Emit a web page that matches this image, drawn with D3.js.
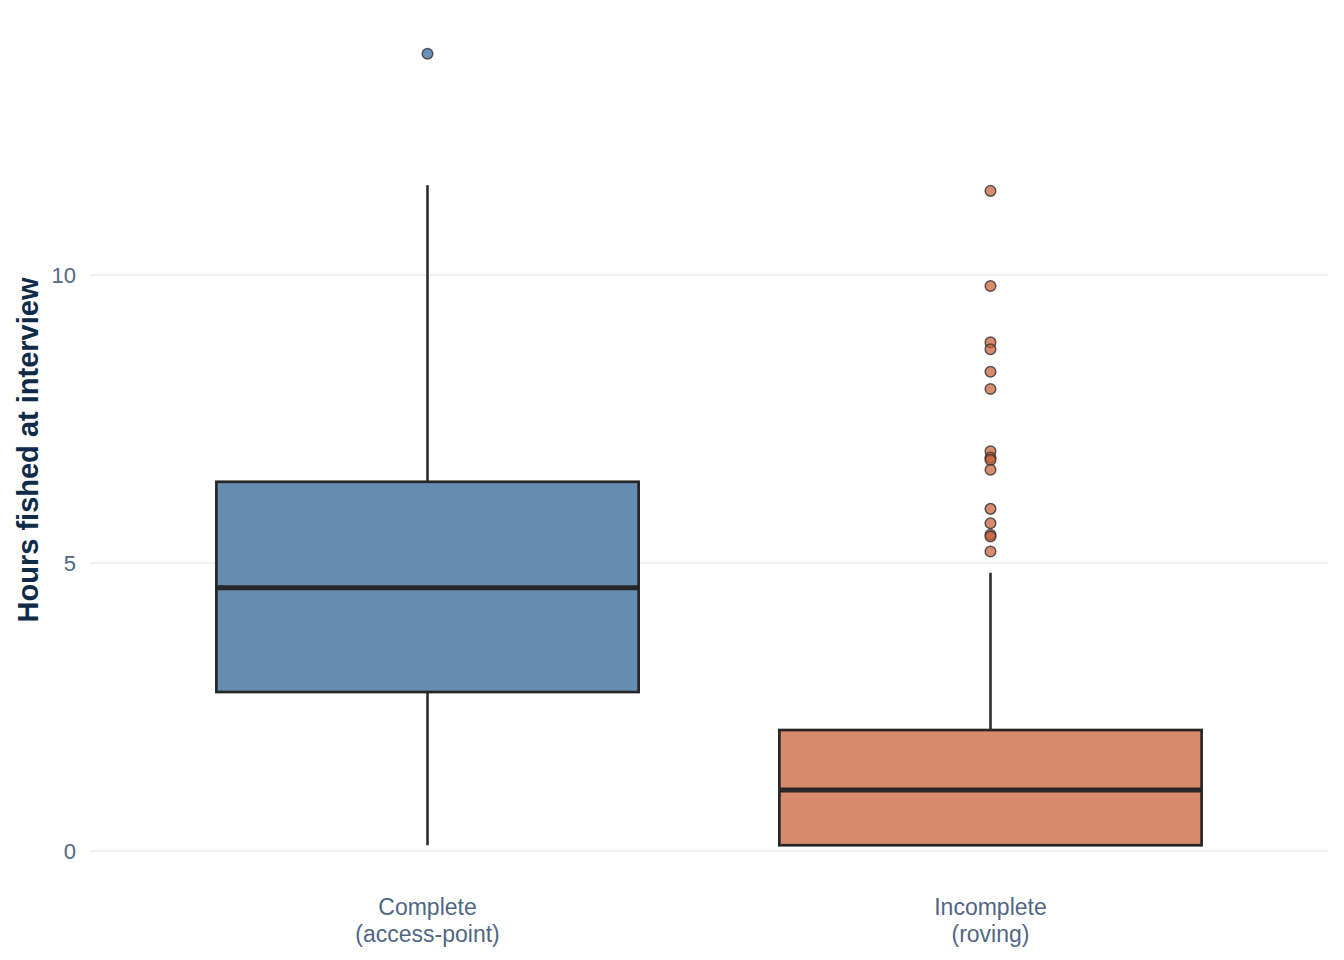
<html>
  <head>
    <meta charset='utf-8'>
    <script src='https://d3js.org/d3.v7.min.js'></script>
    <style>
      body { margin: 0; background: #fff; }
      text { font-family: 'Liberation Sans', Arial, Helvetica, sans-serif; }
    </style>
  </head>
  <body>
    <div id='chart'></div>
    <script>
        // box stats (hours)
        const categories = ['Complete\n(access-point)', 'Incomplete\n(roving)'];
        const q1 = [2.76, 0.10];
        const median = [4.57, 1.06];
        const q3 = [6.41, 2.10];
        const whiskLo = [0.10, 0.10];
        const whiskHi = [11.56, 4.83];
        const outliers = [
          [13.84],
          [11.46, 9.81, 8.83, 8.71, 8.32, 8.02, 6.94, 6.83, 6.79, 6.62, 5.94, 5.69, 5.49, 5.46, 5.20]
        ];
        const boxFill = ['#678cb1', '#d88b6c'];
        const dotFill = ['#2d5f96', '#c95c30'];
        const yTicks = [0, 5, 10];

        const W = 1344, H = 960;
        const margin = { left: 90, right: 16, top: 0, bottom: 0 };

        const svg = d3.select('#chart').append('svg')
            .attr('width', W).attr('height', H);

        const x = d3.scaleBand()
            .domain(d3.range(categories.length))
            .range([margin.left, W - margin.right])
            .paddingInner(0.25)
            .paddingOuter(0.2245);

        const y = d3.scaleLinear()
            .domain([0, 10])
            .range([851, 275]);

        // grid
        const grid = svg.append('g');
        grid.selectAll('line').data(yTicks).join('line')
            .attr('x1', margin.left).attr('x2', W - margin.right)
            .attr('y1', d => y(d)).attr('y2', d => y(d))
            .attr('stroke', '#ebedf2').attr('stroke-width', 1.5);

        // y axis labels
        const yAxis = svg.append('g')
            .attr('transform', `translate(${margin.left - 14},0)`)
            .call(d3.axisLeft(y).tickValues(yTicks).tickSize(0).tickPadding(0));
        yAxis.select('.domain').remove();
        yAxis.selectAll('text')
            .attr('fill', '#506784').attr('font-size', 22)
            .style('font-family', "'Liberation Sans', Arial, sans-serif");

        svg.append('text')
            .attr('transform', `translate(38,450) rotate(-90)`)
            .attr('text-anchor', 'middle')
            .attr('font-size', 29).attr('font-weight', 'bold')
            .attr('fill', '#0f2b4a')
            .text('Hours fished at interview');

        // x labels
        const xl = svg.append('g');
        categories.forEach((c, i) => {
          const t = xl.append('text')
            .attr('x', x(i) + x.bandwidth() / 2)
            .attr('y', 915)
            .attr('text-anchor', 'middle')
            .attr('font-size', 23)
            .attr('fill', '#506784');
          c.split('\n').forEach((s, k) => {
            t.append('tspan').attr('x', x(i) + x.bandwidth() / 2)
             .attr('dy', k ? 27 : 0).text(s);
          });
        });

        // boxes
        const boxes = svg.append('g').selectAll('g').data(categories).join('g');
        boxes.each(function(d, i) {
          const g = d3.select(this);
          const cx = x(i) + x.bandwidth() / 2;
          g.append('line')
            .attr('x1', cx).attr('x2', cx)
            .attr('y1', y(whiskHi[i])).attr('y2', y(q3[i]))
            .attr('stroke', '#262626').attr('stroke-width', 2.5);
          g.append('line')
            .attr('x1', cx).attr('x2', cx)
            .attr('y1', y(q1[i])).attr('y2', y(whiskLo[i]))
            .attr('stroke', '#262626').attr('stroke-width', 2.5);
          g.append('rect')
            .attr('x', x(i)).attr('width', x.bandwidth())
            .attr('y', y(q3[i])).attr('height', y(q1[i]) - y(q3[i]))
            .attr('fill', boxFill[i])
            .attr('stroke', '#262626').attr('stroke-width', 2.7);
          g.append('line')
            .attr('x1', x(i)).attr('x2', x(i) + x.bandwidth())
            .attr('y1', y(median[i])).attr('y2', y(median[i]))
            .attr('stroke', '#262626').attr('stroke-width', 5);
          g.selectAll('circle').data(outliers[i]).join('circle')
            .attr('cx', cx).attr('cy', v => y(v)).attr('r', 5.3)
            .attr('fill', dotFill[i]).attr('fill-opacity', 0.7)
            .attr('stroke', '#333').attr('stroke-opacity', 0.8)
            .attr('stroke-width', 1.5);
        });
    </script>
  </body>
</html>
